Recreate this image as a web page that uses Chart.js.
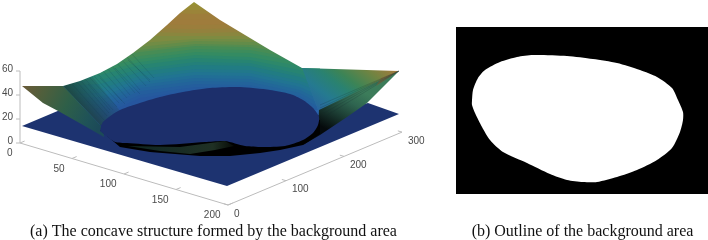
<!DOCTYPE html>
<html><head><meta charset="utf-8">
<style>html,body{margin:0;padding:0;background:#fff}canvas{display:block}</style>
<script src="https://cdn.jsdelivr.net/npm/chart.js@4"></script>
</head><body><canvas id="c" width="708" height="240"></canvas>
<script>
// Tick labels of the three 3D axes
const xTicks=[0,50,100,150,200];
const yTicks=[0,100,200,300];
const zTicks=[0,20,40,60];
const captions=["(a) The concave structure formed by the background area","(b) Outline of the background area"];
// Outlines
const plate=[[22,126],[60,110],[100,125],[320,115],[368,103],[399,114],[227,186]];
const leftFlap=[[22,86],[63,86],[103,128],[104,137],[83,125],[60,112],[43,103]];
const leftShade=[[63,86],[92,76],[126,118],[103,128]];
const rightFlapUpper=[[302,68],[399,71],[319,112]];
const rightFlapLower=[[399,71],[319,110],[318,128],[303,145],[320,135],[347,117],[367,103]];
const disc=[[100,131],[103,122],[120,110],[143,102],[160,97],[183,92],[210,88],[240,87],[270,90],[290,94],[303,100],[313,108],[319,117],[318,125],[313,133],[303,140],[285,146],[262,147],[245,146],[225,141],[205,142],[160,145],[127,143],[115,142],[100,131]];
const crescent=[[100,130],[120,147],[150,152],[200,156],[230,156],[260,153],[280,150],[303,145],[320,134],[320,120],[225,135]];
const crescentGreen=[[128,146],[180,147],[225,141],[234,146],[215,150],[190,154],[160,151]];
const sky=[[0,0],[450,0],[450,73],[399,71],[302,68],[270,50],[245,35],[220,20],[207,11],[194,2],[180,13],[167,25],[150,40],[133,53],[117,64],[100,73],[80,81],[63,86],[0,86]];
const mainBase=[[63,86],[100,70],[133,50],[167,22],[194,0],[220,17],[245,32],[270,47],[302,65],[318,110],[100,130]];
// Height bands of the surface: colour and band edge at each column
const bandColumns=[63,100,140,195,250,300,320];
const bandColours=["#a9a337","#ab9c3a","#ae923c","#b18b3e","#b2893f","#ae8c3f","#a58f40","#9a9542","#8d9a45","#7e9b49","#6f9b4e","#5f9b55","#4f9b5c","#449b63","#3a9a6a","#329773","#2b937c","#288e85","#25898f","#248598","#2480a0","#257aa4","#2673a8","#276eaa","#2868ac","#2963ad","#2a5fae"];
const bandEdges=[
[4,4,4,5,4,4,4],[8,8,8,10,8,8,8],[12,12,12,14,12,12,12],[18,18,18,20,18,18,18],
[24,24,24,25,24,24,24],[28,28,28,29,28,26,26],[32,32,32,33,32,28,28],[36,36,36,36,36,30,30],
[44,44,43,39,39,35,35],[50,50,47,41,42,40,40],[55,55,50,44,45,48,48],[60,60,52,46,47,55,55],
[64,64,56,49,50,59,60],[68,68,59,52,53,62,66],[73,72,62,55,57,66,72],[78,75,65,58,60,70,78],
[82,80,69,62,63,74,82],[86,84,72,65,66,77,85],[90,89,76,69,70,81,88],[94,93,79,72,73,84,92],
[98,97,82,75,76,87,96],[102,100,85,78,79,90,100],[106,104,88,81,82,93,104],[110,108,91,84,85,96,108],
[116,112,95,87,88,99,112],[122,116,98,90,90,102,115]];
// Fine streaks on the left of the surface
const streaks=[[72,84,104,120],[77,82,107,116],[81,81,109,113],[85,79,113,110],[90,78,117,107],[94,76,119,103],[98,74,122,101],[103,71,127,98],[107,68,130,95],[111,65,135,93],[116,62,140,90],[121,59,146,86],[126,56,150,82],[131,53,154,78],[88,84,110,110],[100,78,125,104],[115,68,140,94],[128,60,150,80]];
// Streaks that fan out from the right corner
const fanEnds=[[320,105],[320,108],[321,111],[322,114],[324,117]];
const fanCorner=[399,71];
// The mask in panel (b)
const maskFrame=[[456,27],[708,27],[708,194],[456,194]];
const blob=[[472,100],[473,90],[478,78],[485,70],[500,62],[517,57],[533,55],[567,56],[593,59],[617,63],[640,70],[657,77],[672,88],[678,100],[683,112],[683,120],[680,132],[672,148],[657,160],[637,170],[617,177],[597,182],[583,182],[567,180],[550,174],[527,163],[503,152],[490,140],[482,127],[475,113],[472,105],[472,100]];

const ctx2=document.getElementById('c').getContext('2d');
const grad=(x0,y0,x1,y1,stops)=>{const g=ctx2.createLinearGradient(x0,y0,x1,y1);stops.forEach(s=>g.addColorStop(s[0],s[1]));return g;};
const pts=a=>a.map(p=>({x:p[0],y:p[1]}));
const project=(x,y,z)=>({x:20+x*1.04+y*0.58,y:143+x*0.31-y*0.243-z*1.2});
const layers=[];
const poly=(a,color,tension)=>layers.push({data:pts(a.concat([a[0]])),showLine:true,fill:'shape',backgroundColor:color,borderWidth:0,borderColor:'transparent',pointRadius:0,tension:tension||0});
const line=(d,color,w)=>layers.push({data:d,showLine:true,fill:false,borderColor:color,borderWidth:w||1,pointRadius:0,tension:0});

// surface, from highest band down
poly(mainBase,bandColours[0]);
bandEdges.forEach((e,i)=>{
  const a=bandColumns.map((x,j)=>[x,e[j]]);
  a.push([320,115],[100,130],[63,86],[63,e[0]]);
  poly(a,bandColours[i+1]);
});
poly(mainBase,'rgba(10,20,35,0.11)');
poly(leftShade,grad(70,96,100,72,[[0,'rgba(28,62,52,0.85)'],[0.55,'rgba(28,62,60,0.35)'],[1,'rgba(28,62,70,0)']]));
streaks.forEach(s=>line(pts([[s[0],s[1]],[s[2],s[3]]]),'rgba(12,50,70,0.16)'));
poly(sky,'#ffffff');
poly(plate,'#1d3370');
poly(leftFlap,grad(22,86,100,125,[[0,'#6b5a38'],[0.25,'#4f5f3c'],[0.55,'#2e5f48'],[0.85,'#1f5258'],[1,'#1c4a58']]));
poly(rightFlapUpper,grad(305,100,353,36,[[0,'#28649e'],[0.21,'#257a90'],[0.41,'#2a8270'],[0.54,'#3c8456'],[0.76,'#6f8442'],[1,'#a87a3c']]));
poly(rightFlapLower,grad(352,86,328,130,[[0,'#3c7c5a'],[0.3,'#2f6550'],[0.6,'#1d3f35'],[1,'#050a0c']]));
poly([[399,71],[381,78],[376,86]],'rgba(140,100,55,0.6)');
fanEnds.forEach(e=>line(pts([fanCorner,e]),'rgba(20,40,45,0.2)'));
poly(crescent,'#000000');
poly(crescentGreen,grad(128,0,234,0,[[0,'#0f2622'],[0.8,'#1f3024'],[1,'#070a06']]));
poly(disc,'#1c2f6b',0.25);
// panel (b)
poly(maskFrame,'#000000');
poly(blob,'#ffffff',0.25);
// 3D axes
const gray='#bcbcbc';
line([project(0,0,0),project(0,0,60)],gray);
line([project(0,0,0),project(200,0,0)],gray);
line([project(200,0,0),project(200,300,0)],gray);
zTicks.forEach(t=>line([project(0,0,t),{x:16,y:project(0,0,t).y}],gray));
xTicks.forEach(t=>line([project(t,0,0),project(t,8,0)],gray));
yTicks.forEach(t=>line([project(200,t,0),project(196,t,0)],gray));
layers.forEach((d,i)=>d.order=layers.length-i);

const textPlugin={id:'texts',afterDraw(c){
  const g=c.ctx,sx=c.scales.x,sy=c.scales.y;
  g.save();g.fillStyle='#4a4a4a';g.font='10px "Liberation Sans"';g.textBaseline='middle';
  g.textAlign='right';
  xTicks.forEach(t=>{const p=project(t,0,0);g.fillText(String(t),sx.getPixelForValue(p.x)-7.5,sy.getPixelForValue(p.y)+10.5);});
  zTicks.forEach(t=>{const p=project(0,0,t);g.fillText(String(t),13,sy.getPixelForValue(p.y)-1.5);});
  g.textAlign='left';
  yTicks.forEach(t=>{const p=project(200,t,0);g.fillText(String(t),sx.getPixelForValue(p.x)+6,sy.getPixelForValue(p.y)+9);});
  g.fillStyle='#111';g.font='16px "Liberation Serif"';g.textAlign='center';
  g.fillText(captions[0],213.5,232);
  g.fillText(captions[1],582.5,232);
  g.restore();
}};
new Chart(ctx2,{type:'scatter',data:{datasets:layers},plugins:[textPlugin],options:{
  responsive:false,animation:false,events:[],
  layout:{padding:0},
  plugins:{legend:{display:false},tooltip:{enabled:false},title:{display:false}},
  scales:{x:{type:'linear',min:0,max:708,display:false},y:{type:'linear',min:0,max:240,reverse:true,display:false}}
}});
</script></body></html>
